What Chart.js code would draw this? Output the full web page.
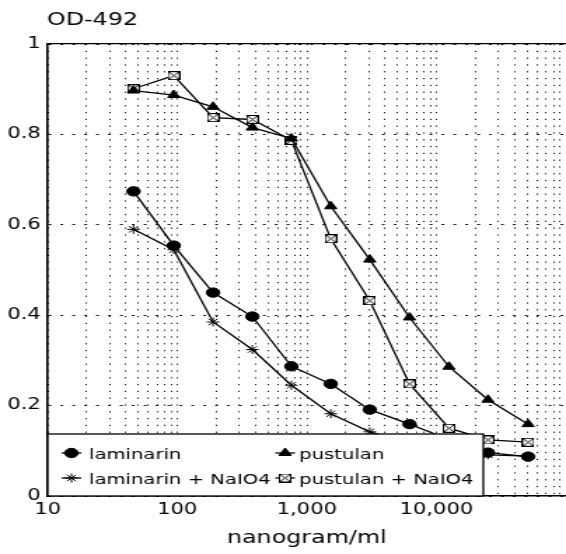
<!DOCTYPE html>
<html>
<head>
<meta charset="utf-8">
<title>OD-492 vs nanogram/ml</title>
<script src="https://cdn.jsdelivr.net/npm/chart.js@4.4.1/dist/chart.umd.min.js"></script>
<style>
  html, body { margin: 0; padding: 0; background: #fff; }
  #chart { display: block; }
</style>
</head>
<body>
<!-- the scanned original is wider than tall, so the canvas is drawn narrow and stretched -->
<canvas id="chart" width="404" height="554" style="width:566px;height:554px"></canvas>
<script>
// concentration of each dilution step, nanogram/ml (shared by all curves)
const concentrations = [46, 94, 189, 380, 760, 1530, 3060, 6200, 12500, 25000, 51000];

// OD-492 readings
const laminarin = [0.674, 0.554, 0.450, 0.397, 0.287, 0.248, 0.191, 0.159, 0.125, 0.096, 0.087];
const pustulan = [0.897, 0.887, 0.861, 0.815, 0.791, 0.641, 0.523, 0.395, 0.286, 0.213, 0.159];
const laminarinNaIO4 = [0.590, 0.545, 0.385, 0.324, 0.245, 0.182, 0.142, 0.118, 0.100, 0.091, 0.088];
const pustulanNaIO4 = [0.901, 0.930, 0.837, 0.833, 0.787, 0.569, 0.432, 0.248, 0.150, 0.124, 0.119];

const seriesNames = ['laminarin', 'pustulan', 'laminarin + NaIO4', 'pustulan + NaIO4'];
const xLabelTicks = [10, 100, 1000, 10000];
const xDecades = [10, 100, 1000, 10000];
const yTicks = [0, 0.2, 0.4, 0.6, 0.8, 1];
const yTitle = 'OD-492';
const xTitle = 'nanogram/ml';

const FONT = '"DejaVu Sans", "Liberation Sans", sans-serif';

// dotted grid at 1..9 of every decade
const xGridTicks = [];
xDecades.forEach(d => {
    for (let k = 1; k < 10; k++) xGridTicks.push(d * k);
});
xGridTicks.push(100000);

// square with a cross in it, used for pustulan + NaIO4
function boxCross() {
    const c = document.createElement('canvas');
    c.width = 9;
    c.height = 9;
    const g = c.getContext('2d');
    g.fillStyle = '#fff';
    g.fillRect(0, 0, 9, 9);
    g.strokeStyle = '#000';
    g.lineWidth = 1;
    g.strokeRect(0.5, 0.5, 8, 8);
    g.beginPath();
    g.moveTo(1, 1); g.lineTo(8, 8);
    g.moveTo(8, 1); g.lineTo(1, 8);
    g.stroke();
    return c;
}

function series(label, values, style, radius) {
    return {
        label: label,
        data: concentrations.map((x, i) => ({ x: x, y: values[i] })),
        borderColor: '#000',
        backgroundColor: '#000',
        borderWidth: 1.3,
        tension: 0,
        pointStyle: style,
        pointRadius: radius,
        pointBorderWidth: 1,
        pointBackgroundColor: '#000',
        pointBorderColor: '#000'
    };
}

// horizontal "OD-492" over the top of the value axis
const yTitleTop = {
    id: 'yTitleTop',
    afterDraw(chart) {
        const { ctx, chartArea } = chart;
        ctx.save();
        ctx.fillStyle = '#000';
        ctx.font = '17px ' + FONT;
        ctx.textAlign = 'left';
        ctx.textBaseline = 'middle';
        ctx.fillText(yTitle, chartArea.left - 0.5, 20.5);
        ctx.restore();
    }
};

// legend box sitting inside the plot, bottom left
const legendBox = {
    id: 'legendBox',
    afterDatasetsDraw(chart) {
        const { ctx, chartArea } = chart;
        const left = chartArea.left;
        const bottom = chartArea.bottom;
        const w = 311, h = 62;
        const markerX = [17, 169.5];
        const textX = [29.5, 179.5];
        const markerY = [43, 18];
        const textY = [41, 16];

        ctx.save();
        ctx.fillStyle = '#fff';
        ctx.fillRect(left, bottom - h, w, h);
        ctx.strokeStyle = '#000';
        ctx.lineWidth = 1.3;
        ctx.strokeRect(left, bottom - h, w, h);

        chart.data.datasets.forEach((ds, i) => {
            const col = i % 2;
            const row = Math.floor(i / 2);
            const mx = left + markerX[col];
            const my = bottom - markerY[row];

            ctx.strokeStyle = '#000';
            ctx.fillStyle = '#000';
            ctx.lineWidth = 1.3;
            ctx.beginPath();
            ctx.moveTo(mx - 7, my);
            ctx.lineTo(mx + 7, my);
            ctx.stroke();

            ctx.lineWidth = 1;
            Chart.helpers.drawPoint(ctx, {
                pointStyle: ds.pointStyle,
                radius: ds.pointRadius,
                borderWidth: 1,
                rotation: 0
            }, mx, my);

            ctx.fillStyle = '#000';
            ctx.font = '14px ' + FONT;
            ctx.textAlign = 'left';
            ctx.textBaseline = 'middle';
            ctx.fillText(ds.label, left + textX[col], bottom - textY[row]);
        });
        ctx.restore();
    }
};

new Chart(document.getElementById('chart'), {
    type: 'line',
    data: {
        datasets: [
            series(seriesNames[0], laminarin, 'circle', 4.7),
            series(seriesNames[1], pustulan, 'triangle', 5),
            series(seriesNames[2], laminarinNaIO4, 'star', 4.5),
            series(seriesNames[3], pustulanNaIO4, boxCross(), 4.5)
        ]
    },
    options: {
        responsive: false,
        animation: false,
        devicePixelRatio: 1,
        layout: { padding: 0, autoPadding: false },
        plugins: {
            legend: { display: false },
            tooltip: { enabled: false },
            title: { display: false }
        },
        scales: {
            x: {
                type: 'logarithmic',
                position: 'bottom',
                min: 10,
                max: 100000,
                afterBuildTicks: s => { s.ticks = xGridTicks.map(v => ({ value: v })); },
                afterFit: s => { s.height = 58; s.paddingRight = 0; },
                grid: { color: '#111', lineWidth: 1, drawTicks: false },
                border: { display: true, color: '#000', width: 1.6, dash: [1.2, 5.6] },
                ticks: {
                    autoSkip: false,
                    maxRotation: 0,
                    padding: 5,
                    color: '#000',
                    font: { family: FONT, size: 15 },
                    callback: v => xLabelTicks.includes(v) ? v.toLocaleString('en-US') : ''
                },
                title: {
                    display: true,
                    text: xTitle,
                    color: '#000',
                    font: { family: FONT, size: 17 },
                    padding: { top: 0, bottom: 5 }
                }
            },
            // only gives the frame its top edge
            x2: {
                type: 'logarithmic',
                position: 'top',
                min: 10,
                max: 100000,
                afterFit: s => { s.height = 44; s.paddingRight = 0; },
                grid: { display: false, drawOnChartArea: false, drawTicks: false },
                border: { display: true, color: '#000', width: 1.2 },
                ticks: { display: false }
            },
            y: {
                min: 0,
                max: 1,
                afterBuildTicks: s => { s.ticks = yTicks.map(v => ({ value: v })); },
                afterFit: s => { s.width = 34; },
                grid: { color: '#111', lineWidth: 1, drawTicks: false },
                border: { display: true, color: '#000', width: 1.6, dash: [2, 6.5] },
                ticks: {
                    padding: 5,
                    color: '#000',
                    font: { family: FONT, size: 15 },
                    callback: v => String(v)
                }
            }
        }
    },
    plugins: [legendBox, yTitleTop]
});
</script>
</body>
</html>
